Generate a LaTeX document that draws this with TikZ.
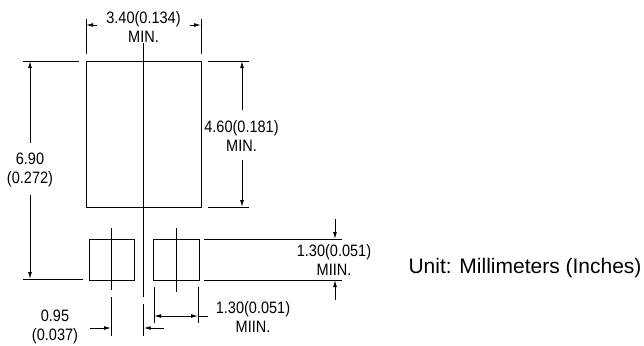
\documentclass[tikz,border=0pt]{standalone}
\usepackage{fontspec}
\usepackage{tikz}
\usetikzlibrary{arrows.meta}
\usetikzlibrary{positioning,calc}
\newfontfamily\cadfont[FakeStretch=0.88]{Liberation Sans}
\setmainfont{Liberation Sans}

\begin{document}
\begin{tikzpicture}[x=1pt,y=-1pt,line width=0.9pt,
		>={Latex[length=7pt,width=3.8pt]},
		dimarrow/.style={->},
		dimtext/.style={align=center,inner sep=0pt,font=\cadfont\fontsize{16.5}{19}\selectfont},
		padbox/.style={draw,rectangle,inner sep=0pt}]
		\useasboundingbox (0,0) rectangle (644,345);

		% land pattern
		\node[padbox,minimum width=115pt,minimum height=146pt] (body) at (143.5,134) {};
		\node[padbox,minimum width=45pt,minimum height=41pt] (padl) at (111.5,259.5) {};
		\node[padbox,minimum width=46pt,minimum height=41pt] (padr) at (176,259.5) {};

		% centre lines
		\coordinate (ct) at (143.7,43);
		\coordinate (cb) at (143.7,297);
		\coordinate (lt) at (111,228);
		\coordinate (lb) at (111,290);
		\coordinate (rt) at (176,228);
		\coordinate (rb) at (176,292);
		\draw (ct) -- (cb);
		\draw (lt) -- (lb);
		\draw (rt) -- (rb);

		% top width
		\node[dimtext] (wtxt) at (143.5,27) {3.40(0.134)\\MIN.};
		\draw (86,19) -- (86,54);
		\draw (201,19) -- (201,54);
		\draw[dimarrow] (97,25) -- (86,25);
		\draw[dimarrow] (190,25) -- (201,25);

		% overall height
		\node[dimtext] (htxt) at (30,170) {6.90\\(0.272)};
		\draw (23,61) -- (79,61);
		\draw (23,279) -- (83,279);
		\draw[dimarrow] (30,143) -- (30,61);
		\draw[dimarrow] (30,195) -- (30,279);

		% body height
		\node[dimtext] (btxt) at (241.5,136.5) {4.60(0.181)\\MIN.};
		\draw (208,61) -- (249,61);
		\draw (208,207) -- (249,207);
		\draw[dimarrow] (242,110) -- (242,61);
		\draw[dimarrow] (242,160) -- (242,207);

		% pad height
		\node[dimtext] (ptxt) at (334,260.5) {1.30(0.051)\\MIIN.};
		\draw (204,239) -- (342,239);
		\draw (204,280) -- (342,280);
		\draw[dimarrow] (335,219) -- (335,239);
		\draw[dimarrow] (335,300) -- (335,280);

		% pad width
		\node[dimtext] (wptxt) at (253,317.5) {1.30(0.051)\\MIIN.};
		\draw (154,287) -- (154,323);
		\draw (198,287) -- (198,323);
		\draw[<->] (154,316) -- (198,316);
		\draw (198,316) -- (208,316);

		% pad offset
		\node[dimtext] (otxt) at (55,326.5) {0.95\\(0.037)};
		\draw (111,297) -- (111,336);
		\draw (143.7,304) -- (143.7,336);
		\draw[dimarrow] (90,328) -- (111,328);
		\draw[dimarrow] (164,328) -- (143.7,328);

		\node[font=\fontsize{21}{25}\selectfont] (unit) at (525,268) {Unit: Millimeters (Inches)};
	\end{tikzpicture}
\end{document}
